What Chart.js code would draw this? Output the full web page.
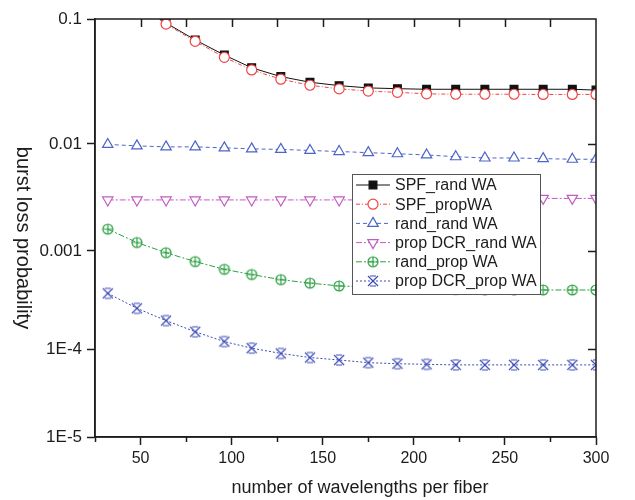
<!DOCTYPE html>
<html>
<head>
<meta charset="utf-8">
<script src="https://cdn.jsdelivr.net/npm/chart.js@4/dist/chart.umd.min.js"></script>
<style>
  html, body { margin: 0; padding: 0; background: #fff; }
  #wrap { width: 635px; height: 500px; }
</style>
</head>
<body>
<div id="wrap"><canvas id="lossChart" width="635" height="500"></canvas></div>
<script>
// burst loss vs wavelengths per fiber (log y)

// ---- Data ----
const wavelengths = [32, 48, 64, 80, 96, 111, 127, 143, 159, 175, 191, 207, 223, 239, 255, 271, 287, 300];

const spfRandWA = [0.2, 0.135, 0.093, 0.068, 0.0515, 0.0407, 0.0346, 0.0312, 0.0293, 0.0281, 0.0277, 0.0274, 0.0274, 0.0274, 0.0274, 0.0274, 0.0274, 0.027];
const spfPropWA = [0.19, 0.13, 0.091, 0.0663, 0.0494, 0.0391, 0.033, 0.0295, 0.0276, 0.0265, 0.0259, 0.0252, 0.025, 0.025, 0.025, 0.0249, 0.0249, 0.0249];
const randRandWA = [0.0099, 0.0096, 0.0094, 0.0094, 0.0092, 0.009, 0.0089, 0.0087, 0.0085, 0.0083, 0.0081, 0.0079, 0.0076, 0.0074, 0.0074, 0.0073, 0.0072, 0.0072];
const propDcrRandWA = [0.003, 0.003, 0.003, 0.003, 0.003, 0.003, 0.003, 0.003, 0.003, 0.003, 0.003, 0.003, 0.003, 0.003, 0.003, 0.0031, 0.0031, 0.0031];
const randPropWA = [0.0016, 0.0012, 0.00096, 0.00078, 0.00065, 0.000575, 0.00051, 0.00047, 0.00044, 0.00043, 0.00042, 0.00041, 0.000405, 0.0004, 0.0004, 0.0004, 0.0004, 0.0004];
const propDcrPropWA = [0.00037, 0.00026, 0.000195, 0.00015, 0.000119, 0.000102, 0.000089, 0.00008, 0.000075, 0.00007, 0.000068, 0.000067, 0.000066, 0.000066, 0.000066, 0.000066, 0.000066, 0.000066];

const seriesNames = ['SPF_rand WA', 'SPF_propWA', 'rand_rand WA', 'prop DCR_rand WA', 'rand_prop WA', 'prop DCR_prop WA'];

const xTicks = [50, 100, 150, 200, 250, 300];
const xMinorTicks = [25, 75, 125, 175, 225, 275];
const yTicks = [1e-5, 1e-4, 1e-3, 1e-2, 1e-1];
const yTickLabels = ['1E-5', '1E-4', '0.001', '0.01', '0.1'];

const xTitle = 'number of wavelengths per fiber';
const yTitle = 'burst loss probability';

// the printed axis has unequal decades; where each decade sits, bottom -> top (0..1)
const DECADE_STOPS = [0, 0.2105, 0.445, 0.701, 1];

(() => {
  const FONT = "'Liberation Sans', Arial, sans-serif";
  const INK = '#1c1c1c';
  const GREEN = '#2ea043';
  const NAVY = '#3a4ab4';

  // ---- Log scale with per-decade spacing ----
  class DecadeLogScale extends Chart.LogarithmicScale {
    getPixelForValue(value) {
      if (value === null || value === undefined || isNaN(value) || value <= 0) return NaN;
      const lo = Math.log10(this.min);
      const hi = Math.log10(this.max);
      const n = DECADE_STOPS.length - 1;
      const t = (Math.log10(value) - lo) / (hi - lo) * n;
      const k = Math.max(0, Math.min(n - 1, Math.floor(t)));
      const d = DECADE_STOPS[k] + (t - k) * (DECADE_STOPS[k + 1] - DECADE_STOPS[k]);
      return this.getPixelForDecimal(d);
    }
  }
  DecadeLogScale.id = 'decadeLog';
  DecadeLogScale.defaults = Chart.LogarithmicScale.defaults;
  Chart.register(DecadeLogScale);

  // ---- Custom markers (small canvases used as pointStyle) ----
  function makeMarker(size, draw) {
    const c = document.createElement('canvas');
    c.width = size; c.height = size;
    const g = c.getContext('2d');
    draw(g, size / 2);
    return c;
  }

  const circlePlus = makeMarker(14, (g, m) => {
    g.strokeStyle = GREEN; g.lineWidth = 1.2;
    g.beginPath();
    g.arc(m, m, 5, 0, Math.PI * 2);
    g.moveTo(m - 5, m); g.lineTo(m + 5, m);
    g.moveTo(m, m - 5); g.lineTo(m, m + 5);
    g.stroke();
  });

  const crossBars = makeMarker(14, (g, m) => {
    g.strokeStyle = NAVY; g.lineWidth = 1.2;
    g.beginPath();
    g.moveTo(m - 5, m - 5); g.lineTo(m + 5, m + 5);
    g.moveTo(m + 5, m - 5); g.lineTo(m - 5, m + 5);
    g.moveTo(m - 3, m - 5); g.lineTo(m + 3, m - 5);
    g.moveTo(m - 3, m + 5); g.lineTo(m + 3, m + 5);
    g.stroke();
  });

  const pts = (vals) => wavelengths.map((x, i) => ({ x, y: vals[i] }));

  const datasets = [
    { label: seriesNames[0], data: pts(spfRandWA), borderColor: '#111', backgroundColor: '#111',
      pointStyle: 'rect', pointRadius: 5.5, borderDash: [], order: 1 },
    { label: seriesNames[1], data: pts(spfPropWA), borderColor: '#f04444', backgroundColor: '#fff',
      pointStyle: 'circle', pointRadius: 5, borderDash: [4, 2, 1, 2] },
    { label: seriesNames[2], data: pts(randRandWA), borderColor: '#4c64c8', backgroundColor: '#fff',
      pointStyle: 'triangle', pointRadius: 6, borderDash: [4, 3] },
    { label: seriesNames[3], data: pts(propDcrRandWA), borderColor: '#c25cc2', backgroundColor: '#fff',
      pointStyle: 'triangle', pointRotation: 180, pointRadius: 6, borderDash: [6, 2, 2, 2] },
    { label: seriesNames[4], data: pts(randPropWA), borderColor: GREEN, backgroundColor: GREEN,
      pointStyle: circlePlus, pointRadius: 6, borderDash: [6, 2, 2, 2] },
    { label: seriesNames[5], data: pts(propDcrPropWA), borderColor: NAVY, backgroundColor: NAVY,
      pointStyle: crossBars, pointRadius: 6, borderDash: [2, 2] }
  ].map(d => Object.assign({
    borderWidth: 1,
    pointBorderWidth: 1.2,
    pointBorderColor: d.borderColor,
    pointBackgroundColor: d.backgroundColor,
    fill: false,
    tension: 0,
    clip: 0,
    order: 0
  }, d));

  // ---- Frame, extra ticks, titles, legend ----
  const decorations = {
    id: 'decorations',
    afterDraw(chart) {
      const { ctx, chartArea: a, scales: { x, y } } = chart;
      ctx.save();
      ctx.strokeStyle = INK;
      ctx.lineWidth = 1.5;
      ctx.strokeRect(a.left, a.top, a.right - a.left, a.bottom - a.top);

      ctx.beginPath();
      // top ticks, inward, every 25
      [...xTicks, ...xMinorTicks].forEach(v => {
        const px = Math.round(x.getPixelForValue(v)) + 0.5;
        if (px <= a.left + 1 || px >= a.right - 1) return;
        ctx.moveTo(px, a.top); ctx.lineTo(px, a.top + 8);
      });
      // bottom minor ticks, outward
      xMinorTicks.forEach(v => {
        const px = Math.round(x.getPixelForValue(v)) + 0.5;
        ctx.moveTo(px, a.bottom); ctx.lineTo(px, a.bottom + 5);
      });
      // right ticks, inward
      yTicks.forEach(v => {
        const py = Math.round(y.getPixelForValue(v)) + 0.5;
        if (py <= a.top + 1 || py >= a.bottom - 1) return;
        ctx.moveTo(a.right, py); ctx.lineTo(a.right - 8, py);
      });
      ctx.stroke();

      // axis titles
      ctx.fillStyle = INK;
      ctx.textAlign = 'center';
      ctx.textBaseline = 'middle';
      ctx.font = `18px ${FONT}`;
      ctx.fillText(xTitle, 360, 488);
      ctx.save();
      ctx.font = `20px ${FONT}`;
      ctx.translate(23, 238);
      ctx.rotate(Math.PI / 2);
      ctx.fillText(yTitle, 0, 0);
      ctx.restore();

      // legend box
      const box = { left: 352, top: 174, width: 188, height: 120 };
      ctx.fillStyle = '#fff';
      ctx.fillRect(box.left, box.top, box.width, box.height);
      ctx.strokeStyle = '#555';
      ctx.lineWidth = 1;
      ctx.strokeRect(box.left + 0.5, box.top + 0.5, box.width, box.height);

      ctx.font = `16px ${FONT}`;
      ctx.textAlign = 'left';
      chart.data.datasets.forEach((ds, i) => {
        const cy = box.top + 11 + i * 19.2;
        ctx.strokeStyle = ds.borderColor;
        ctx.lineWidth = 1;
        ctx.setLineDash(ds.borderDash);
        ctx.beginPath();
        ctx.moveTo(356, cy); ctx.lineTo(390, cy);
        ctx.stroke();
        ctx.setLineDash([]);
        ctx.fillStyle = ds.pointBackgroundColor;
        ctx.strokeStyle = ds.pointBorderColor;
        ctx.lineWidth = ds.pointBorderWidth;
        Chart.helpers.drawPoint(ctx, {
          pointStyle: ds.pointStyle,
          rotation: ds.pointRotation || 0,
          radius: ds.pointRadius,
          borderWidth: ds.pointBorderWidth
        }, 373, cy);
        ctx.fillStyle = INK;
        ctx.fillText(ds.label, 395, cy + 1);
      });
      ctx.restore();
    }
  };

  const tickFont = { family: FONT, size: 16 };

  new Chart(document.getElementById('lossChart').getContext('2d'), {
    type: 'line',
    data: { datasets },
    options: {
      responsive: false,
      animation: false,
      devicePixelRatio: 1,
      layout: { padding: { top: 19, right: 39, left: 0, bottom: 0 } },
      plugins: { legend: { display: false }, tooltip: { enabled: false } },
      scales: {
        x: {
          type: 'linear',
          min: 25,
          max: 300,
          afterBuildTicks: (scale) => { scale.ticks = xTicks.map(v => ({ value: v })); },
          afterFit: (scale) => { scale.height = 63; },
          ticks: { font: tickFont, color: INK, padding: 4, maxRotation: 0 },
          grid: { drawOnChartArea: false, drawTicks: true, tickLength: 8, tickColor: INK, tickWidth: 1.5 },
          border: { display: true, color: INK, width: 1.5 }
        },
        y: {
          type: 'decadeLog',
          min: 1e-5,
          max: 0.1,
          afterBuildTicks: (scale) => { scale.ticks = yTicks.map(v => ({ value: v })); },
          afterFit: (scale) => { scale.width = 95; },
          ticks: {
            font: { family: FONT, size: 17 }, color: INK, padding: 5,
            callback: (v, i) => yTickLabels[i]
          },
          grid: { drawOnChartArea: false, drawTicks: true, tickLength: 8, tickColor: INK, tickWidth: 1.5 },
          border: { display: true, color: INK, width: 1.5 }
        }
      }
    },
    plugins: [decorations]
  });
})();
</script>
</body>
</html>
